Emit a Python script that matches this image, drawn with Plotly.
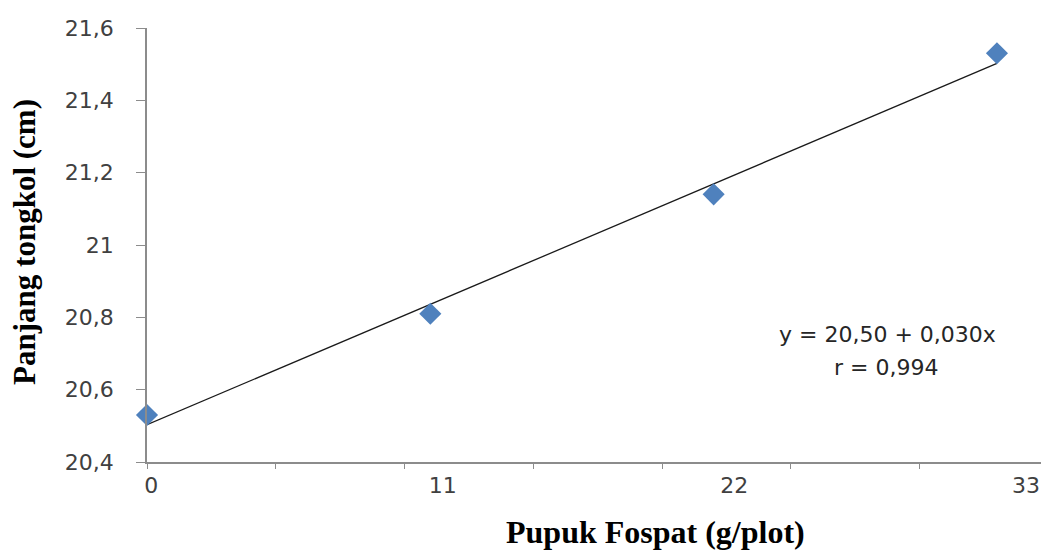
import numpy as np
import plotly.graph_objects as go

# Data
pupuk = [0, 11, 22, 33]                     # Pupuk Fospat (g/plot)
panjang = [20.53, 20.81, 21.14, 21.53]      # Panjang tongkol (cm)
x_tick_labels = ["0", "11", "22", "33"]
equation_text = "y = 20,50 + 0,030x"
r_text = "r = 0,994"

# Linear trend line from the data
slope, intercept = np.polyfit(pupuk, panjang, 1)
trend_x = [min(pupuk), max(pupuk)]
trend_y = [intercept + slope * v for v in trend_x]

AXIS_COLOR = "#8c8c8c"
TICK_FONT = dict(family="DejaVu Sans", size=22, color="#404040")

fig = go.Figure()

fig.add_trace(go.Scatter(
    x=trend_x, y=trend_y, mode="lines",
    line=dict(color="#1a1a1a", width=1.3),
    showlegend=False, hoverinfo="skip", cliponaxis=False,
))
fig.add_trace(go.Scatter(
    x=pupuk, y=panjang, mode="markers",
    marker=dict(symbol="diamond", size=17, color="#4F81BD", line=dict(width=0)),
    showlegend=False, cliponaxis=False,
))
# invisible trace carrying the labels axis
fig.add_trace(go.Scatter(
    x=pupuk, y=panjang, xaxis="x2", mode="markers",
    marker=dict(opacity=0), showlegend=False, hoverinfo="skip",
))

fig.update_layout(
    width=1041, height=552,
    margin=dict(l=146.5, r=0, t=28.3, b=90.3),
    paper_bgcolor="white", plot_bgcolor="white",
    separators=", ",
    xaxis=dict(
        range=[0, 34.71], tick0=0, dtick=5,
        showticklabels=False, ticks="outside", ticklen=5,
        tickcolor=AXIS_COLOR, tickwidth=1.3,
        showline=True, linecolor=AXIS_COLOR, linewidth=1.5,
        showgrid=False, zeroline=False,
    ),
    xaxis2=dict(
        overlaying="x", anchor="y", side="bottom",
        range=[-0.158, 33.57],
        tickvals=pupuk, ticktext=x_tick_labels,
        ticks="", showline=False, showgrid=False, zeroline=False,
        tickfont=TICK_FONT, ticklabelstandoff=8,
    ),
    yaxis=dict(
        range=[20.4, 21.6], tick0=20.4, dtick=0.2,
        ticks="outside", ticklen=9, tickcolor=AXIS_COLOR, tickwidth=1.3,
        showline=True, linecolor=AXIS_COLOR, linewidth=1.5,
        showgrid=False, zeroline=False,
        tickfont=TICK_FONT, ticklabelstandoff=18,
    ),
    annotations=[
        dict(text="<b>Pupuk Fospat (g/plot)</b>", xref="paper", yref="paper",
             x=0.5685, y=-0.162, xanchor="center", yanchor="middle",
             showarrow=False,
             font=dict(family="Liberation Serif", size=32, color="black")),
        dict(text="<b>Panjang tongkol (cm)</b>", xref="paper", yref="paper",
             x=-0.137, y=0.506, xanchor="center", yanchor="middle",
             textangle=-90, showarrow=False,
             font=dict(family="Liberation Serif", size=31, color="black")),
        dict(text=equation_text, xref="paper", yref="paper",
             x=(887 - 146.5) / 894.5, y=(461.7 - 334) / 433.4,
             xanchor="center", yanchor="middle", showarrow=False,
             font=dict(family="DejaVu Sans", size=22, color="#262626")),
        dict(text=r_text, xref="paper", yref="paper",
             x=(886 - 146.5) / 894.5, y=(461.7 - 367) / 433.4,
             xanchor="center", yanchor="middle", showarrow=False,
             font=dict(family="DejaVu Sans", size=22, color="#262626")),
    ],
)

fig.write_html("out.html")
